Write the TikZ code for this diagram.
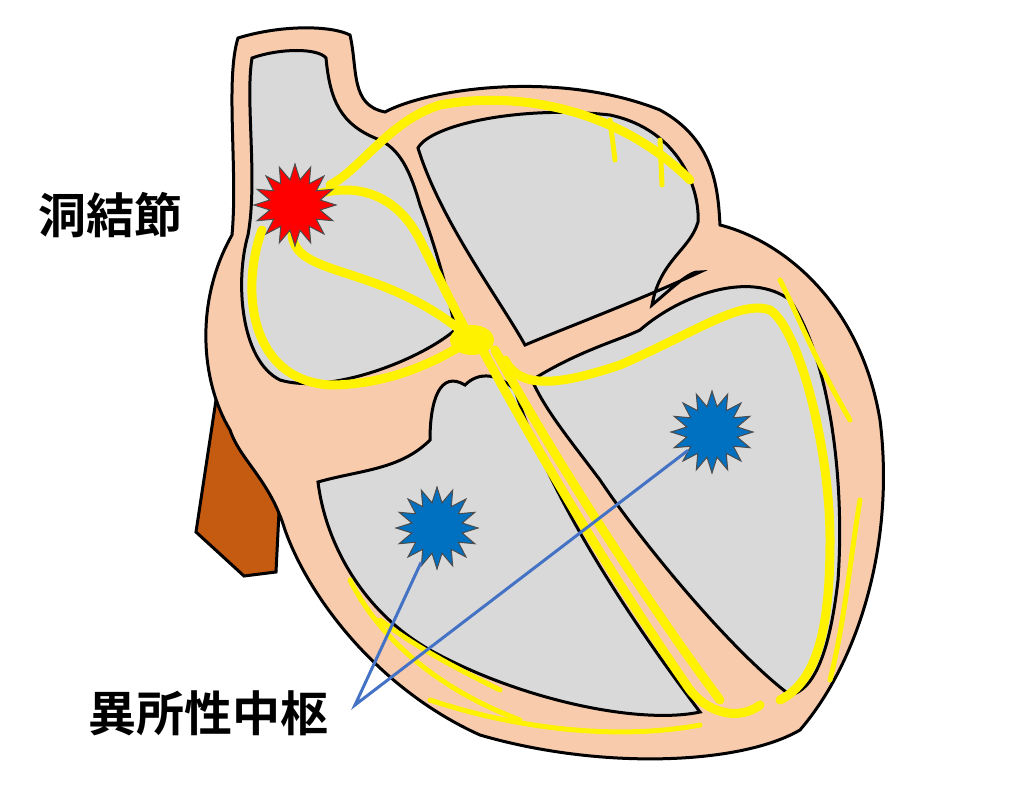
\documentclass[tikz,border=0pt]{standalone}
\usepackage{fontspec}
\newfontfamily\cjk{Noto Sans CJK JP Bold}
\usetikzlibrary{shapes.geometric}
\definecolor{peach}{RGB}{248,203,173}
\definecolor{cavity}{RGB}{217,217,217}
\definecolor{vein}{RGB}{197,90,17}
\definecolor{ystar}{RGB}{0,112,192}
\definecolor{pointer}{RGB}{68,114,196}
\tikzset{
  wall/.style={draw=black,line width=3pt,fill=peach},
  chamber/.style={draw=black,line width=3pt,fill=cavity},
  path/.style={draw=yellow,line width=9pt,line cap=round},
  twig/.style={draw=yellow,line width=5pt,line cap=round},
  spark/.style={star,star points=16,star point ratio=1.6,minimum size=82pt,draw=black!70,line width=1pt,inner sep=0pt},
  label/.style={font=\cjk\fontsize{48}{48}\selectfont}
}
\begin{document}
\begin{tikzpicture}[x=1pt,y=-1pt]
\useasboundingbox (0,0) rectangle (1024,792);

% vena cava
\draw[draw=black,line width=3pt,fill=vein] (230,390) -- (282,452) -- (276,572) -- (244,576) -- (196,532) -- (216,400) -- cycle;

% outer wall
\draw[wall] (238,38) .. controls (280,25) and (330,25) .. (350,35)
  .. controls (358,70) and (350,105) .. (385,112)
  .. controls (430,88) and (560,70) .. (660,110)
  .. controls (715,140) and (718,190) .. (720,225)
  .. controls (780,240) and (860,300) .. (880,420)
  .. controls (895,540) and (860,660) .. (800,730)
  .. controls (740,765) and (600,770) .. (480,735)
  .. controls (380,690) and (310,600) .. (285,530)
  .. controls (270,480) and (240,460) .. (230,430)
  .. controls (200,380) and (195,300) .. (232,235)
  .. controls (238,170) and (225,80) .. (238,38) -- cycle;

% right atrium
\draw[chamber] (252,58) .. controls (280,48) and (318,48) .. (326,58)
  .. controls (330,100) and (340,125) .. (380,140)
  .. controls (400,150) and (410,170) .. (420,205)
  .. controls (440,260) and (450,300) .. (455,330)
  .. controls (420,360) and (330,395) .. (280,380)
  .. controls (240,360) and (235,280) .. (248,235)
  .. controls (258,180) and (245,100) .. (252,58) -- cycle;

% left atrium
\draw[chamber] (418,148) .. controls (430,125) and (520,105) .. (610,115)
  .. controls (680,130) and (700,190) .. (698,222)
  .. controls (690,250) and (660,260) .. (652,305)
  .. controls (670,290) and (690,270) .. (700,272)
  .. controls (640,300) and (560,330) .. (525,345)
  .. controls (500,300) and (440,220) .. (418,148) -- cycle;

% right ventricle
\draw[chamber] (318,482) .. controls (360,470) and (400,470) .. (430,440)
  .. controls (430,400) and (440,370) .. (465,385)
  .. controls (480,370) and (500,375) .. (515,390)
  .. controls (540,470) and (600,580) .. (700,712)
  .. controls (640,725) and (520,700) .. (430,650)
  .. controls (360,610) and (325,540) .. (318,482) -- cycle;

% left ventricle
\draw[chamber] (532,380) .. controls (580,350) and (620,340) .. (640,330)
  .. controls (680,295) and (750,270) .. (790,300)
  .. controls (830,360) and (845,480) .. (838,580)
  .. controls (830,650) and (815,690) .. (790,695)
  .. controls (730,650) and (640,540) .. (600,480)
  .. controls (570,440) and (545,410) .. (532,380) -- cycle;

% conduction paths
\draw[path] (330,185) .. controls (360,170) and (390,120) .. (440,105)
  .. controls (520,90) and (620,110) .. (690,180);
\draw[twig] (610,120) -- (615,160);
\draw[twig] (660,140) -- (662,185);
\draw[path] (300,200) .. controls (360,175) and (400,200) .. (420,240)
  .. controls (440,280) and (455,310) .. (470,338);
\draw[path] (292,230) .. controls (290,280) and (380,260) .. (470,338);
\draw[path] (262,230) .. controls (240,290) and (250,380) .. (330,385)
  .. controls (390,385) and (440,360) .. (470,340);
\draw[path] (480,345) .. controls (520,420) and (600,560) .. (690,690)
  .. controls (710,715) and (740,720) .. (760,705);
\draw[path] (495,350) .. controls (560,470) and (660,620) .. (720,700);
\draw[path] (505,360) .. controls (520,390) and (560,385) .. (620,365)
  .. controls (700,330) and (740,300) .. (770,310)
  .. controls (800,330) and (830,450) .. (830,540)
  .. controls (830,620) and (820,680) .. (780,700);
\draw[twig] (780,280) .. controls (800,320) and (815,360) .. (850,420);
\draw[twig] (860,500) .. controls (850,560) and (845,620) .. (830,680);
\draw[twig] (350,580) .. controls (380,640) and (440,690) .. (520,720);
\draw[twig] (380,620) .. controls (420,650) and (460,670) .. (500,690);
\draw[twig] (430,700) .. controls (520,730) and (620,740) .. (700,725);
\node[draw=none,fill=yellow,ellipse,minimum width=44pt,minimum height=30pt] (av) at (472,340) {};

% foci
\node[spark,fill=red] (sa) at (295,205) {};
\node[spark,fill=ystar] (ecto1) at (437,528) {};
\node[spark,fill=ystar] (ecto2) at (712,432) {};

% labels
\node[label] (salabel) at (110,215) {洞結節};
\node[label] (ectolabel) at (208,713) {異所性中枢};
\coordinate (fork) at (355,705);
\draw[pointer,line width=3pt] (ecto1) -- (fork) -- (ecto2);
\end{tikzpicture}
\end{document}
